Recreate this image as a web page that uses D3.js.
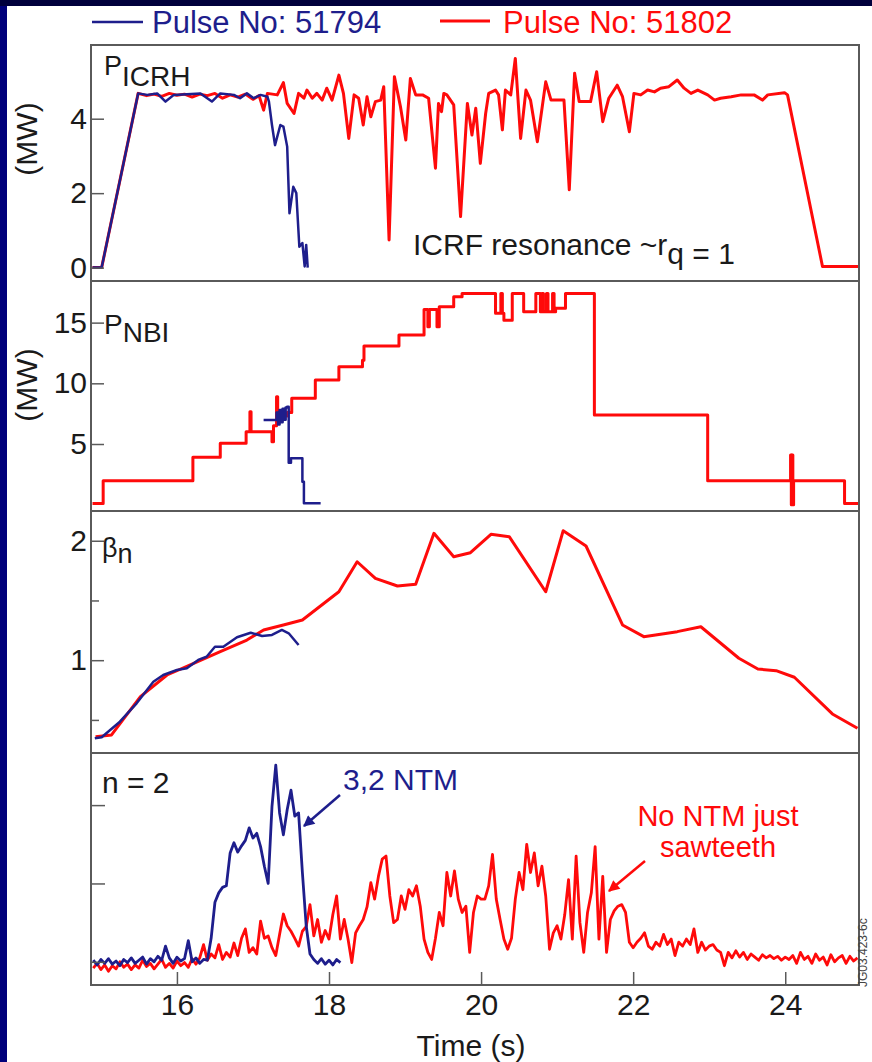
<!DOCTYPE html>
<html>
<head>
<meta charset="utf-8">
<script src="https://cdn.jsdelivr.net/npm/d3@7/dist/d3.min.js"></script>
<style>
	body { margin: 0; background: #fff; }
	svg { display: block; font-family: "Liberation Sans", Arial, Helvetica, sans-serif; }
</style>
</head>
<body>
<svg width="872" height="1062"></svg>
<script>
//	DATA
var timeTicks = [16, 18, 20, 22, 24],
	icrhTicks = [0, 2, 4],
	nbiTicks = [5, 10, 15],
	betaTicks = [1, 2],
	betaMinorTicks = [0.5, 1.5],
	n2Ticks = [0, 1, 2],
	pulseNames = ["Pulse No: 51794", "Pulse No: 51802"];

// P_ICRH (MW) - [time s, value]
var icrh51794 = [[14.89,0],[15.01,0],[15.49,4.68],[15.61,4.64],[15.74,4.68],[15.85,4.46],[15.96,4.64],[16.13,4.66],
	[16.31,4.68],[16.46,4.46],[16.57,4.68],[16.75,4.64],[16.83,4.55],[16.92,4.68],[17.01,4.55],[17.10,4.64],[17.19,4.59],
	[17.21,4.46],[17.25,3.83],[17.29,3.29],[17.36,3.83],[17.40,3.79],[17.45,3.25],[17.48,1.46],[17.53,2.17],[17.57,2.00],
	[17.61,0.56],[17.65,0.66],[17.68,0.03],[17.70,0.61],[17.72,0]];
var icrh51802 = [[14.89,0],[15.01,0],[15.49,4.68],[15.6,4.62],[15.7,4.66],[15.8,4.6],[15.9,4.68],[16.0,4.63],[16.1,4.66],
	[16.2,4.58],[16.3,4.66],[16.4,4.62],[16.5,4.68],[16.6,4.55],[16.7,4.64],[16.8,4.58],[16.9,4.66],[17.0,4.52],[17.08,4.62],
	[17.14,4.23],[17.19,4.68],[17.32,4.64],[17.40,4.97],[17.45,4.41],[17.54,4.14],[17.60,4.68],[17.67,4.55],[17.71,4.77],
	[17.78,4.55],[17.84,4.68],[17.91,4.50],[17.97,4.82],[18.04,4.50],[18.13,5.17],[18.19,4.68],[18.26,3.47],[18.33,4.64],
	[18.39,4.55],[18.45,3.83],[18.50,4.59],[18.55,4.05],[18.61,4.46],[18.68,4.50],[18.72,4.86],[18.79,0.74],[18.86,5.13],
	[18.94,4.32],[19.01,3.43],[19.07,5.08],[19.14,4.64],[19.23,4.64],[19.31,4.55],[19.40,2.67],[19.44,4.41],[19.48,4.19],
	[19.51,4.68],[19.55,4.64],[19.64,4.37],[19.73,1.37],[19.82,4.41],[19.88,3.56],[19.93,4.28],[19.99,2.80],[20.06,4.14],
	[20.10,4.68],[20.19,4.77],[20.23,4.64],[20.28,3.70],[20.32,4.77],[20.39,4.64],[20.45,5.62],[20.52,3.47],[20.59,4.77],
	[20.65,4.50],[20.74,3.38],[20.85,4.99],[20.92,4.50],[21.09,4.50],[21.16,2.09],[21.23,5.22],[21.29,4.46],[21.44,4.46],
	[21.52,5.26],[21.60,3.92],[21.68,4.55],[21.79,4.90],[21.86,4.59],[21.95,3.65],[22.01,4.68],[22.10,4.64],[22.19,4.77],
	[22.28,4.72],[22.36,4.82],[22.47,4.86],[22.58,5.04],[22.67,4.82],[22.76,4.68],[22.85,4.77],[22.98,4.64],[23.07,4.50],
	[23.15,4.55],[23.29,4.59],[23.42,4.64],[23.59,4.64],[23.70,4.50],[23.77,4.64],[23.99,4.70],[24.03,4.64],[24.49,0.03],
	[24.97,0.03]];

// P_NBI (MW), step changes - [time s, value from that time]
var nbi51794 = [[17.14,6.98],[17.31,7.6],[17.33,6.6],[17.35,7.8],[17.37,6.8],[17.39,7.9],[17.41,7.0],[17.43,8.0],
	[17.45,8.07],[17.47,3.46],[17.50,3.82],[17.65,1.9],[17.67,0.12],[17.89,0.12]];
var nbi51802 = [[14.89,0.1],[15.03,1.98],[16.21,3.90],[16.57,5.06],[16.91,6.01],[16.96,7.66],[16.975,6.01],[17.25,5.19],
	[17.27,6.5],[17.31,8.9],[17.325,7.0],[17.40,7.3],[17.45,7.6],[17.51,8.76],[17.82,10.27],[18.13,11.37],[18.44,11.9],
	[18.46,13.07],[18.92,13.98],[19.25,16.09],[19.30,14.66],[19.32,16.09],[19.42,14.66],[19.45,16.31],[19.64,17.13],
	[19.75,17.41],[20.19,15.77],[20.26,17.41],[20.28,15.77],[20.30,15.2],[20.41,17.41],[20.56,15.9],[20.72,17.41],
	[20.78,15.9],[20.80,17.41],[20.82,15.9],[20.86,17.41],[20.88,15.9],[20.94,17.41],[20.96,15.9],[20.98,16.18],
	[21.11,17.41],[21.49,7.39],[22.98,1.98],[24.07,4.09],[24.08,0],[24.09,4.09],[24.10,0],[24.11,1.98],[24.78,0.1],
	[24.97,0.1]];

// beta_n - [time s, value]
var beta51794 = [[14.92,0.346],[15.01,0.355],[15.25,0.485],[15.47,0.639],[15.69,0.820],[15.82,0.876],[16.00,0.918],
	[16.13,0.932],[16.28,1.002],[16.39,1.029],[16.50,1.113],[16.61,1.113],[16.79,1.192],[16.97,1.230],[17.12,1.203],
	[17.25,1.211],[17.38,1.253],[17.47,1.225],[17.60,1.127]];
var beta51802 = [[14.93,0.36],[15.14,0.374],[15.52,0.695],[15.87,0.876],[16.22,0.974],[16.57,1.071],[16.92,1.169],
	[17.14,1.253],[17.40,1.295],[17.65,1.336],[18.13,1.573],[18.37,1.824],[18.61,1.685],[18.90,1.621],[19.14,1.635],
	[19.38,2.062],[19.64,1.866],[19.86,1.900],[20.13,2.054],[20.37,2.034],[20.85,1.573],[21.08,2.084],[21.38,1.956],
	[21.86,1.295],[22.14,1.197],[22.58,1.239],[22.89,1.280],[23.39,1.016],[23.64,0.926],[23.88,0.912],[24.12,0.857],
	[24.62,0.550],[24.95,0.430]];

// n = 2 amplitude (a.u.), sampled from 14.90 s every 0.05 s
var n2Start = 14.9, n2Step = 0.05;
var n2_51794 = [0.02,-0.04,0.03,-0.02,0.04,-0.03,0.01,-0.05,0.03,-0.01,0.05,-0.02,0.02,0.06,-0.03,0.04,0.0,0.07,0.02,0.20,
	0.05,-0.02,0.06,0.01,0.04,0.27,0.0,0.05,-0.02,0.03,0.02,0.30,0.76,0.88,0.95,0.97,1.39,1.52,1.40,1.48,
	1.55,1.71,1.58,1.64,1.47,1.22,1.00,1.98,2.51,1.90,1.62,1.94,2.19,1.86,1.90,1.14,0.46,0.10,0.03,-0.02,
	0.04,-0.03,0.02,-0.04,0.03,-0.01];
var n2_51802 = [-0.08,-0.02,-0.10,-0.04,-0.12,-0.05,-0.09,0.00,-0.07,-0.03,-0.10,-0.04,-0.08,0.02,-0.06,-0.02,-0.09,-0.03,0.03,-0.07,
	-0.02,-0.08,0.01,-0.05,-0.01,-0.07,0.04,-0.03,0.05,0.22,0.02,0.10,0.05,0.22,0.03,0.12,0.06,0.24,0.08,0.30,
	0.42,0.12,0.18,0.10,0.52,0.30,0.33,0.18,0.08,0.35,0.61,0.46,0.39,0.30,0.20,0.39,0.45,0.73,0.33,0.54,
	0.25,0.40,0.29,0.60,0.84,0.29,0.54,0.29,-0.01,0.37,0.46,0.54,0.70,1.01,0.80,1.09,1.31,1.35,0.84,0.50,
	0.54,0.84,0.67,0.92,0.84,0.97,0.71,0.29,0.12,0.03,0.30,0.63,0.46,1.14,0.84,1.16,0.80,0.63,0.71,0.12,
	0.63,0.84,0.80,0.80,0.97,1.37,0.80,0.54,0.29,0.16,0.30,0.80,1.14,0.92,1.50,1.14,1.39,0.97,1.22,0.84,
	0.16,0.37,0.46,0.29,0.60,1.05,0.29,1.35,0.50,0.12,0.63,0.88,1.47,0.29,1.09,0.12,0.54,0.65,0.71,0.73,
	0.63,0.25,0.18,0.25,0.30,0.37,0.20,0.16,0.25,0.20,0.35,0.22,0.29,0.08,0.25,0.20,0.29,0.22,0.42,0.12,
	0.25,0.15,0.20,0.22,0.15,0.12,-0.05,0.12,0.05,0.14,0.06,0.12,0.03,0.10,0.06,0.02,0.09,0.05,0.08,0.04,
	0.07,0.02,0.06,0.03,0.08,-0.02,0.12,0.03,0.07,-0.02,0.10,0.02,0.06,-0.04,0.09,0.00,0.05,0.08,-0.02,0.07,
	0.01,0.05];

//	LAYOUT
var blue = "#1e1e8c", red = "#ff0a0a", frameColor = "#5a5a5a", textColor = "#1a1a1a",
	left = 91, right = 859,
	panels = [[45, 281], [281, 511], [511, 753], [753, 985]];

var svg = d3.select("svg");

// navy slide background with white picture area
svg.append("rect").attr("width", 872).attr("height", 1062).attr("fill", "#00007a");
svg.append("rect").attr("width", 872).attr("height", 6).attr("fill", "#00003c");
svg.append("rect").attr("x", 7).attr("y", 6).attr("width", 865).attr("height", 1056).attr("fill", "#fff");

var x = d3.scaleLinear().domain([14.87, 24.97]).range([left, right]),
	y1 = d3.scaleLinear().domain([-0.36, 5.98]).range([panels[0][1], panels[0][0]]),
	y2 = d3.scaleLinear().domain([-0.52, 18.43]).range([panels[1][1], panels[1][0]]),
	y3 = d3.scaleLinear().domain([0.223, 2.249]).range([panels[2][1], panels[2][0]]),
	y4 = d3.scaleLinear().domain([-0.296, 2.665]).range([panels[3][1], panels[3][0]]);

// clip each panel
var defs = svg.append("defs");
panels.forEach(function(p, i) {
	defs.append("clipPath").attr("id", "clip" + i)
		.append("rect").attr("x", left).attr("y", p[0]).attr("width", right - left).attr("height", p[1] - p[0]);
});
defs.append("marker").attr("id", "headBlue").attr("viewBox", "0 0 10 10").attr("refX", 9).attr("refY", 5)
	.attr("markerWidth", 5).attr("markerHeight", 4.5).attr("markerUnits", "strokeWidth").attr("orient", "auto")
	.append("path").attr("d", "M0,0L10,5L0,10z").attr("fill", blue);
defs.append("marker").attr("id", "headRed").attr("viewBox", "0 0 10 10").attr("refX", 9).attr("refY", 5)
	.attr("markerWidth", 5).attr("markerHeight", 4.5).attr("markerUnits", "strokeWidth").attr("orient", "auto")
	.append("path").attr("d", "M0,0L10,5L0,10z").attr("fill", red);

function lineFor(y, curve) {
	return d3.line().x(function(d) { return x(d[0]); }).y(function(d) { return y(d[1]); })
		.curve(curve || d3.curveLinear);
}
function sampled(values) {
	return values.map(function(v, i) { return [n2Start + i * n2Step, v]; });
}
function trace(i, data, y, color, width, curve) {
	svg.append("path").datum(data)
		.attr("clip-path", "url(#clip" + i + ")")
		.attr("fill", "none").attr("stroke", color).attr("stroke-width", width)
		.attr("stroke-linejoin", "round")
		.attr("d", lineFor(y, curve));
}

// traces
trace(0, icrh51802, y1, red, 3);
trace(0, icrh51794, y1, blue, 2.5);
trace(1, nbi51802, y2, red, 3, d3.curveStepAfter);
trace(1, nbi51794, y2, blue, 2.5, d3.curveStepAfter);
trace(2, beta51802, y3, red, 3);
trace(2, beta51794, y3, blue, 2.5);
trace(3, sampled(n2_51802), y4, red, 2.8);
trace(3, sampled(n2_51794), y4, blue, 2.8);

// axes, ticks pointing inward
var fmt = d3.format("~g");
function styleAxis(g) {
	g.select(".domain").remove();
	g.selectAll(".tick line").attr("stroke", frameColor).attr("stroke-width", 1.5);
	g.selectAll(".tick text").attr("fill", textColor).attr("font-size", 30)
		.attr("font-family", "Liberation Sans, Arial, sans-serif");
}
svg.append("g").attr("transform", "translate(" + left + ",0)")
	.call(d3.axisLeft(y1).tickValues(icrhTicks).tickFormat(fmt).tickSize(-13).tickPadding(4)).call(styleAxis);
svg.append("g").attr("transform", "translate(" + left + ",0)")
	.call(d3.axisLeft(y2).tickValues(nbiTicks).tickFormat(fmt).tickSize(-13).tickPadding(4)).call(styleAxis);
svg.append("g").attr("transform", "translate(" + left + ",0)")
	.call(d3.axisLeft(y3).tickValues(betaTicks).tickFormat(fmt).tickSize(-13).tickPadding(4)).call(styleAxis);
svg.append("g").attr("transform", "translate(" + left + ",0)")
	.call(d3.axisLeft(y3).tickValues(betaMinorTicks).tickSize(-8).tickFormat("")).call(styleAxis);
svg.append("g").attr("transform", "translate(" + left + ",0)")
	.call(d3.axisLeft(y4).tickValues(n2Ticks).tickSize(-14).tickFormat("")).call(styleAxis);
svg.append("g").attr("transform", "translate(0," + panels[3][1] + ")")
	.call(d3.axisBottom(x).tickValues(timeTicks).tickFormat(fmt).tickSize(-13).tickPadding(9)).call(styleAxis);

// frame and panel separators
svg.append("rect").attr("x", left).attr("y", panels[0][0]).attr("width", right - left)
	.attr("height", panels[3][1] - panels[0][0])
	.attr("fill", "none").attr("stroke", frameColor).attr("stroke-width", 2);
svg.selectAll(".sep").data(panels.slice(1)).enter().append("line").attr("class", "sep")
	.attr("x1", left).attr("x2", right)
	.attr("y1", function(p) { return p[0]; }).attr("y2", function(p) { return p[0]; })
	.attr("stroke", frameColor).attr("stroke-width", 2);

// legend
var legend = svg.append("g").attr("font-size", 31);
legend.append("line").attr("x1", 92).attr("x2", 143).attr("y1", 22).attr("y2", 22).attr("stroke", blue).attr("stroke-width", 2.5);
legend.append("text").attr("x", 152).attr("y", 33).attr("fill", blue).text(pulseNames[0]);
legend.append("line").attr("x1", 440).attr("x2", 490).attr("y1", 21).attr("y2", 21).attr("stroke", red).attr("stroke-width", 3);
legend.append("text").attr("x", 503).attr("y", 33).attr("fill", red).text(pulseNames[1]);

// y labels
[[37, 139], [37, 385]].forEach(function(p) {
	svg.append("text").attr("transform", "translate(" + p[0] + "," + p[1] + ") rotate(-90)")
		.attr("text-anchor", "middle").attr("font-size", 30).attr("fill", textColor).text("(MW)");
});

// panel names
var t = svg.append("text").attr("x", 104).attr("y", 75).attr("font-size", 27).attr("fill", textColor);
t.append("tspan").text("P");
t.append("tspan").attr("dy", 11).attr("font-size", 28).text("ICRH");
t = svg.append("text").attr("x", 104).attr("y", 334).attr("font-size", 28).attr("fill", textColor);
t.append("tspan").text("P");
t.append("tspan").attr("dy", 8).attr("font-size", 28).text("NBI");
t = svg.append("text").attr("x", 102).attr("y", 557).attr("font-size", 27).attr("fill", textColor);
t.append("tspan").text("β");
t.append("tspan").attr("dy", 6).text("n");
svg.append("text").attr("x", 102).attr("y", 793).attr("font-size", 30).attr("fill", textColor).text("n = 2");

// annotations
t = svg.append("text").attr("x", 413).attr("y", 255).attr("font-size", 30).attr("fill", textColor);
t.append("tspan").text("ICRF resonance ~r");
t.append("tspan").attr("dy", 9).text("q = 1");

svg.append("text").attr("x", 343).attr("y", 790).attr("font-size", 30).attr("fill", blue).text("3,2 NTM");
svg.append("line").attr("x1", 340).attr("y1", 795).attr("x2", 304).attr("y2", 826)
	.attr("stroke", blue).attr("stroke-width", 2.5).attr("marker-end", "url(#headBlue)");

svg.append("text").attr("x", 718).attr("y", 826).attr("text-anchor", "middle").attr("font-size", 29).attr("fill", red).text("No NTM just");
svg.append("text").attr("x", 718).attr("y", 857).attr("text-anchor", "middle").attr("font-size", 29).attr("fill", red).text("sawteeth");
svg.append("line").attr("x1", 645).attr("y1", 861).attr("x2", 609).attr("y2", 891)
	.attr("stroke", red).attr("stroke-width", 2.5).attr("marker-end", "url(#headRed)");

// x label and figure id
svg.append("text").attr("x", 471).attr("y", 1056).attr("text-anchor", "middle").attr("font-size", 30)
	.attr("fill", textColor).text("Time (s)");
svg.append("text").attr("transform", "translate(867,987) rotate(-90)").attr("font-size", 12)
	.attr("fill", "#444").text("JG03.423-6c");
</script>
</body>
</html>
